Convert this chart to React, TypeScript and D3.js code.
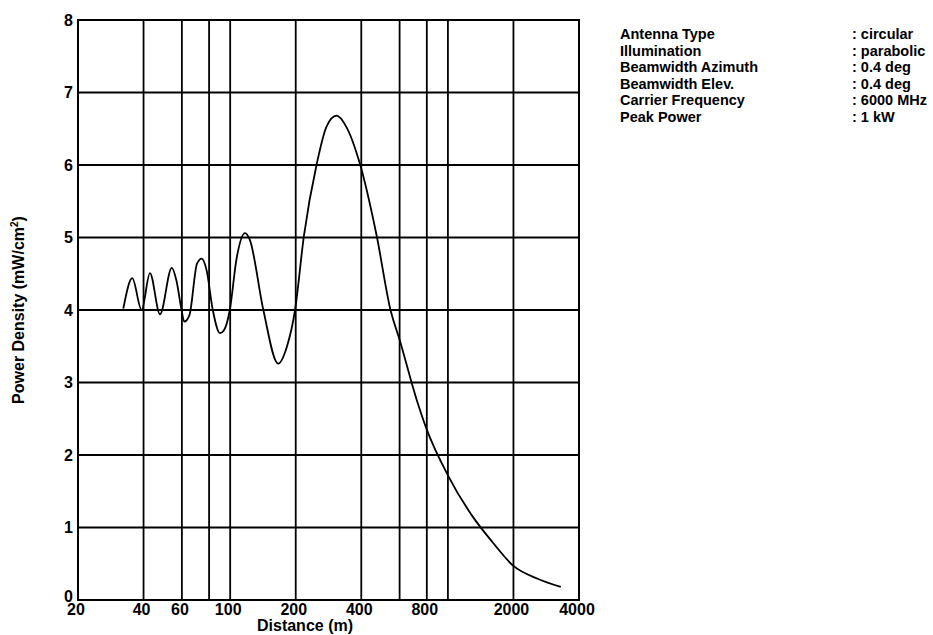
import React from 'react';
import * as d3 from 'd3';

const distances = [32.3, 35.5, 39.2, 42.8, 47.6, 53.9, 56.6, 59.8, 61.5, 65, 70.4, 74, 77.9, 83.2, 89.8, 93.6, 99.6, 107, 117, 123, 142, 166, 182, 198.6, 218, 250, 277, 308, 341, 394, 471, 545, 600, 719, 800, 1000, 1300, 1600, 2000, 2600, 3300];
const density = [4.02, 4.44, 4.0, 4.51, 3.94, 4.58, 4.41, 4.0, 3.84, 3.93, 4.64, 4.71, 4.55, 4.0, 3.68, 3.72, 4.0, 4.71, 5.06, 4.97, 4.0, 3.26, 3.49, 4.0, 5.02, 6.02, 6.53, 6.68, 6.53, 6.02, 5.02, 4.0, 3.59, 2.76, 2.35, 1.72, 1.15, 0.8, 0.47, 0.29, 0.18];

const xTickValues = [20, 40, 60, 100, 200, 400, 800, 2000, 4000];
const xGridValues = [40, 60, 80, 100, 200, 400, 600, 800, 1000, 2000];
const yTickValues = [0, 1, 2, 3, 4, 5, 6, 7, 8];

const infoLabels = ['Antenna Type', 'Illumination', 'Beamwidth Azimuth', 'Beamwidth Elev.', 'Carrier Frequency', 'Peak Power'];
const infoValues = ['circular', 'parabolic', '0.4 deg', '0.4 deg', '6000 MHz', '1 kW'];

const W = 933;
const H = 635;
const left = 78, right = 579, top = 20, bottom = 600;

export default function App() {
  const x = d3.scaleLog().domain([20, 4000]).range([left, right]);
  const y = d3.scaleLinear().domain([0, 8]).range([bottom, top]);
  const pts: [number, number][] = distances.map((d, i) => [d, density[i]]);
  const line = d3.line<[number, number]>()
    .x(d => x(d[0]))
    .y(d => y(d[1]))
    .curve(d3.curveMonotoneX);
  const font = '"Liberation Sans", Arial, Helvetica, sans-serif';
  return (
    <div style={{ position: 'absolute', left: 0, top: 0 }}>
      <svg width={W} height={H} style={{ display: 'block', background: '#fff' }} fontFamily={font} fontWeight="bold">
        {yTickValues.map(v => (
          <line key={'h' + v} x1={left} x2={right} y1={y(v)} y2={y(v)} stroke="#000" strokeWidth={1.8} />
        ))}
        {xGridValues.map(v => (
          <line key={'v' + v} x1={x(v)} x2={x(v)} y1={top} y2={bottom} stroke="#000" strokeWidth={1.8} />
        ))}
        <rect x={left} y={top} width={right - left} height={bottom - top} fill="none" stroke="#000" strokeWidth={2} />
        <path d={line(pts) || ''} fill="none" stroke="#000" strokeWidth={1.8} />
        {yTickValues.map(v => (
          <text key={'yt' + v} x={left - 5} y={y(v) + (v === 0 ? -4 : 0)} dy="0.36em" textAnchor="end" fontSize={16}>{v}</text>
        ))}
        {xTickValues.map(v => (
          <text key={'xt' + v} x={x(v) - 2} y={615} textAnchor="middle" fontSize={16}>{v}</text>
        ))}
        <text x={305} y={631} textAnchor="middle" fontSize={16}>Distance (m)</text>
        <text transform={`translate(24,${(top + bottom) / 2}) rotate(-90)`} textAnchor="middle" fontSize={16}>
          Power Density (mW/cm<tspan fontSize={10} dy={-6}>2</tspan><tspan dy={6}>)</tspan>
        </text>
        {infoLabels.map((t, i) => (
          <g key={'info' + i}>
            <text x={620} y={39 + i * 16.5} fontSize={14.5}>{t}</text>
            <text x={852} y={39 + i * 16.5} fontSize={14.5}>: {infoValues[i]}</text>
          </g>
        ))}
      </svg>
    </div>
  );
}
